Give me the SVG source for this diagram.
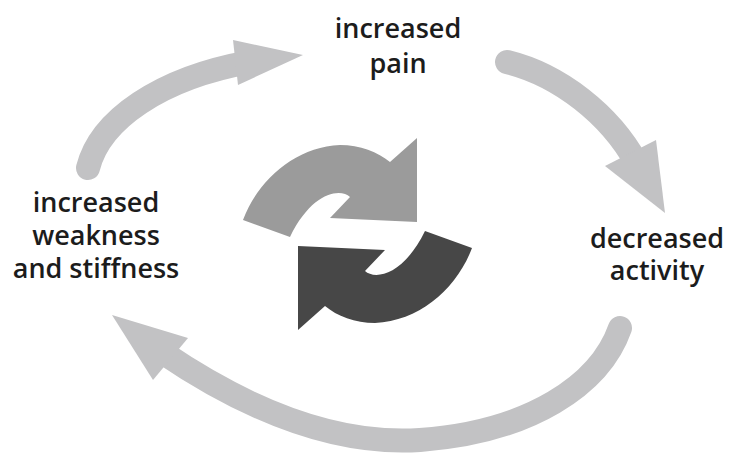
<svg xmlns="http://www.w3.org/2000/svg" width="733" height="453" viewBox="0 0 733 453">
<style>
.lbl{font-family:"Open Sans","Liberation Sans",sans-serif;font-size:27px;font-weight:600;fill:#1c1c1c;text-anchor:middle}
.shaft{fill:none;stroke:#c2c2c4;stroke-width:24;stroke-linecap:round}
.head{fill:#c2c2c4}
</style>
<defs>
<path id="half" d="M 243 220 C 258 180, 295 147, 340 145 C 360 145, 378 152, 390 162 L 417 138 L 417 222 L 330 218 L 350 197 C 340 188, 312 192, 290 237 Z"/>
</defs>
<rect width="733" height="453" fill="#ffffff"/>
<g id="connectors">
<g id="arrow-weakness-to-pain">
<path class="shaft" d="M 88 168 C 100 120, 160 78, 250 62"/>
<polygon class="head" points="303,55 233,40 238,85"/>
</g>
<g id="arrow-pain-to-activity">
<path class="shaft" d="M 507 62 C 560 75, 610 115, 636 162"/>
<polygon class="head" points="665,213 605,166 656,140"/>
</g>
<g id="arrow-activity-to-weakness">
<path class="shaft" d="M 620 328 C 600 385, 530 432, 420 440 C 330 446, 240 405, 162 352"/>
<polygon class="head" points="112,315 188,338 153,380"/>
</g>
</g>
<g id="cycle-icon">
<use href="#half" fill="#9b9b9b"/>
<use href="#half" fill="#474747" transform="rotate(180 357.5 234)"/>
</g>
<g id="node-pain">
<text class="lbl" x="398" y="38">increased</text>
<text class="lbl" x="398" y="73">pain</text>
</g>
<g id="node-activity">
<text class="lbl" x="657" y="248">decreased</text>
<text class="lbl" x="657" y="280">activity</text>
</g>
<g id="node-weakness">
<text class="lbl" x="96" y="212">increased</text>
<text class="lbl" x="96" y="245">weakness</text>
<text class="lbl" x="96" y="278">and stiffness</text>
</g>
</svg>
